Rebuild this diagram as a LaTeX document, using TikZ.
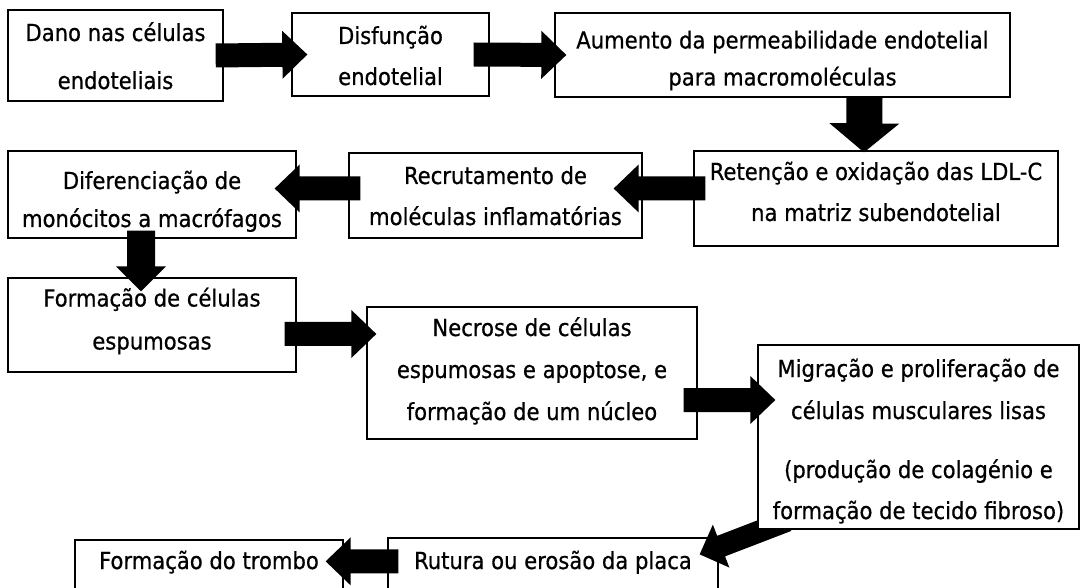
\documentclass[tikz,border=0pt]{standalone}
\usepackage{fontspec}
\setmainfont[FakeBold=0.6]{DejaVu Sans Condensed}
\usetikzlibrary{calc}
\pgfdeclarelayer{bottom}
\pgfdeclarelayer{middle}
\pgfsetlayers{bottom,middle,main}
\newcommand{\upstrut}[1]{\rule{0pt}{#1pt}}
\newcommand{\dnstrut}[1]{\rule[-#1pt]{0pt}{#1pt}}
\tikzset{
  box/.style={draw, line width=1.3pt, fill=white, align=center, inner sep=0pt,
    font=\fontsize{23.5}{41}\selectfont},
  % block arrow: half shaft width, half head width, head length
  block/.style n args={3}{to path={
    ($(\tikztostart)!#1!90:(\tikztotarget)$)
    -- ($($(\tikztotarget)!#3!(\tikztostart)$)!#1!90:(\tikztotarget)$)
    -- ($($(\tikztotarget)!#3!(\tikztostart)$)!#2!90:(\tikztotarget)$)
    -- (\tikztotarget)
    -- ($($(\tikztotarget)!#3!(\tikztostart)$)!#2!-90:(\tikztotarget)$)
    -- ($($(\tikztotarget)!#3!(\tikztostart)$)!#1!-90:(\tikztotarget)$)
    -- ($(\tikztostart)!#1!-90:(\tikztotarget)$)
    -- cycle}},
  flow/.style={block={12pt}{24pt}{25pt}},
  bigflow/.style={block={18pt}{35pt}{29pt}},
}
\begin{document}
\begin{tikzpicture}[x=1pt, y=-1pt]
  \useasboundingbox (0,0) rectangle (1080,588);
  \node[box, minimum width=215, minimum height=91] (dano) at (115.5,55.5)
    {\upstrut{25}Dano nas células\\[7pt]endoteliais\dnstrut{6}};
  \node[box, minimum width=197, minimum height=83] (disf) at (390.5,54.5)
    {\upstrut{26}Disfunção\\endotelial\dnstrut{6}};
  \node[box, minimum width=455, minimum height=84] (perm) at (782.5,55)
    {\upstrut{30}Aumento da permeabilidade endotelial\\[-4pt]para macromoléculas\dnstrut{6}};
  \node[box, minimum width=364, minimum height=95] (ldl) at (876,198.5)
    {\upstrut{23}Retenção e oxidação das LDL-C\\na matriz subendotelial\dnstrut{19}};
  \node[box, minimum width=293, minimum height=85] (recr) at (495.5,195.5)
    {\upstrut{24}Recrutamento de\\moléculas inflamatórias\dnstrut{6}};
  \node[box, minimum width=288, minimum height=87] (difer) at (152,194.5)
    {\upstrut{33}Diferenciação de\\[-3pt]monócitos a macrófagos\dnstrut{6}};
  \node[box, minimum width=288, minimum height=94] (espum) at (152,325)
    {\upstrut{23}Formação de células\\[2pt]espumosas\dnstrut{17}};
  \node[box, minimum width=330, minimum height=132] (necr) at (532,373)
    {\upstrut{23}Necrose de células\\[1pt]espumosas e apoptose, e\\[1pt]formação de um núcleo\dnstrut{13}};
  \node[box, minimum width=321, minimum height=184] (migr) at (918.5,437)
    {\upstrut{28}Migração e proliferação de\\[1pt]células musculares lisas\\[18pt](produção de colagénio e\\formação de tecido fibroso)\dnstrut{6}};
  \begin{pgfonlayer}{bottom}
    \node[box, minimum width=330, minimum height=70] (rutura) at (553,573)
      {\upstrut{21}Rutura ou erosão da placa\dnstrut{29}};
  \end{pgfonlayer}
  \node[box, minimum width=268, minimum height=70] (trombo) at (209,575)
    {\upstrut{21}Formação do trombo\dnstrut{33}};
  \fill ([shift={(-8,0)}]dano.east) to[flow] ([shift={(16,0)}]disf.west);        % dano -- disf
  \fill ([shift={(-16,0)}]disf.east) to[flow] ([shift={(12,0)}]perm.west);       % disf -- perm
  \fill ([shift={(82,0)}]perm.south) to[bigflow] ([shift={(-12,2)}]ldl.north);   % perm -- ldl
  \fill ([shift={(12,-10)}]ldl.west) to[flow] ([shift={(-29,-7)}]recr.east);     % ldl -- recr
  \fill ([shift={(12,-7)}]recr.west) to[flow] ([shift={(-22,-6)}]difer.east);    % recr -- difer
  \fill ([shift={(-11,-8)}]difer.south) to[block={14pt}{25pt}{25pt}] ([shift={(-11,14)}]espum.north); % difer -- espum
  \fill ([shift={(-12,9)}]espum.east) to[flow] ([shift={(10,-39)}]necr.west);    % espum -- necr
  \fill ([shift={(-14,27)}]necr.east) to[flow] ([shift={(18,-37)}]migr.west);    % necr -- migr
  \begin{pgfonlayer}{middle}
    \fill ([shift={(30,-9)}]migr.south west) to[block={11pt}{23pt}{23pt}] ([shift={(-19,17)}]rutura.north east); % migr -- rutura
  \end{pgfonlayer}
  \fill ([shift={(11,24)}]rutura.north west) to[flow] ([shift={(-18,22)}]trombo.north east); % rutura -- trombo
\end{tikzpicture}
\end{document}
